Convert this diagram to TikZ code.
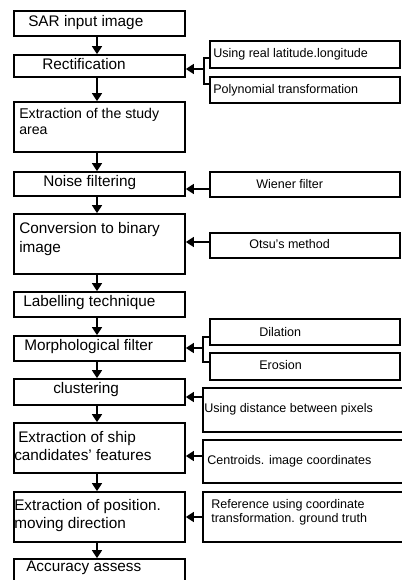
\documentclass[tikz,border=0pt]{standalone}
\usepackage{fontspec}
\setmainfont{Liberation Sans}
\usetikzlibrary{fit,arrows.meta}
\begin{document}
\begin{tikzpicture}[x=0.75pt,y=-0.75pt,
  box/.style={draw, line width=1.3pt, inner sep=0pt},
  ltxt/.style={anchor=mid west, inner sep=0pt, font=\fontsize{11.5}{13}\selectfont},
  rtxt/.style={anchor=mid west, inner sep=0pt, font=\fontsize{9.4}{11}\selectfont},
  arr/.style={line width=1.2pt, -{Triangle[width=7.5pt,length=6pt]}},
  conn/.style={line width=1.2pt}]
\useasboundingbox (0,0) rectangle (402,580);
\clip (0,0) rectangle (402,580);
% left column
\node[box, fit={(14,11) (185,36)}] (sar) {};
\node[box, fit={(14,55) (185,77)}] (rect) {};
\node[box, fit={(14,102) (185,152)}] (study) {};
\node[box, fit={(14,172) (185,196)}] (noise) {};
\node[box, fit={(14,214) (185,274)}] (conv) {};
\node[box, fit={(14,292) (185,317)}] (label) {};
\node[box, fit={(14,336) (185,361)}] (morph) {};
\node[box, fit={(14,379) (185,405)}] (clus) {};
\node[box, fit={(14,423) (185,473)}] (ship) {};
\node[box, fit={(14,492) (185,542)}] (pos) {};
\node[box, fit={(14,559) (185,600)}] (acc) {};
% left texts
\node[ltxt] (t1) at (28,23) {SAR input image};
\node[ltxt] (t2) at (42,66) {Rectification};
\node[ltxt, font=\fontsize{10.6}{12}\selectfont] (t3a) at (19,115) {Extraction of the study};
\node[ltxt, font=\fontsize{10.6}{12}\selectfont] (t3b) at (19,131) {area};
\node[ltxt] (t4) at (43,183) {Noise filtering};
\node[ltxt] (t5a) at (19,230) {Conversion to binary};
\node[ltxt] (t5b) at (19,249) {image};
\node[ltxt] (t6) at (23,303) {Labelling technique};
\node[ltxt] (t7) at (24,347) {Morphological filter};
\node[ltxt] (t8) at (53,390) {clustering};
\node[ltxt] (t9a) at (18,439) {Extraction of ship};
\node[ltxt] (t9b) at (14,457) {candidates' features};
\node[ltxt] (t10a) at (14,507) {Extraction of position.};
\node[ltxt] (t10b) at (14,525) {moving direction};
\node[ltxt] (t11) at (26,568) {Accuracy assess};
% right column
\node[box, fit={(210,41) (400,68)}] (lat) {};
\node[box, fit={(210,77) (400,103)}] (poly) {};
\node[box, fit={(210,172) (400,197)}] (wien) {};
\node[box, fit={(210,233) (400,258)}] (otsu) {};
\node[box, fit={(210,319) (400,345)}] (dil) {};
\node[box, fit={(210,353) (400,380)}] (ero) {};
\node[box, fit={(203,388) (420,432)}] (dist) {};
\node[box, fit={(203,440) (420,483)}] (cent) {};
\node[box, fit={(203,492) (420,542)}] (ref) {};
% right texts
\node[rtxt] (r1) at (213,54) {Using real latitude.longitude};
\node[rtxt] (r2) at (213,90) {Polynomial transformation};
\node[rtxt] (r3) at (256,185) {Wiener filter};
\node[rtxt] (r4) at (249,245) {Otsu's method};
\node[rtxt] (r5) at (259,333) {Dilation};
\node[rtxt] (r6) at (259,366) {Erosion};
\node[rtxt] (r7) at (204,409) {Using distance between pixels};
\node[rtxt] (r8) at (207,461) {Centroids. image coordinates};
\node[rtxt] (r9a) at (211,505) {Reference using coordinate};
\node[rtxt] (r9b) at (211,519) {transformation. ground truth};
% vertical arrows
\coordinate (ax) at (97,0);
\foreach \a/\b in {sar/rect,rect/study,study/noise,noise/conv,conv/label,label/morph,morph/clus,clus/ship,ship/pos,pos/acc}
  \draw[arr] (\a.south -| ax) -- (\b.north -| ax);
% brackets
\coordinate (b1) at (204,69);
\draw[conn] (lat.west |- 0,58) -| (b1) |- (poly.west |- 0,84);
\draw[arr] (b1) -- (rect.east |- b1);
\coordinate (b2) at (203,348);
\draw[conn] (dil.west |- 0,337) -| (b2) |- (ero.west |- 0,362);
\draw[arr] (b2) -- (morph.east |- b2);
% horizontal arrows
\draw[arr] (wien.west |- 0,189) -- (noise.east |- 0,189);
\draw[arr] (otsu.west |- 0,242) -- (conv.east |- 0,242);
\draw[arr] (dist.west |- 0,397) -- (clus.east |- 0,397);
\draw[arr] (cent.west |- 0,456) -- (ship.east |- 0,456);
\draw[arr] (ref.west |- 0,517) -- (pos.east |- 0,517);
\end{tikzpicture}
\end{document}
